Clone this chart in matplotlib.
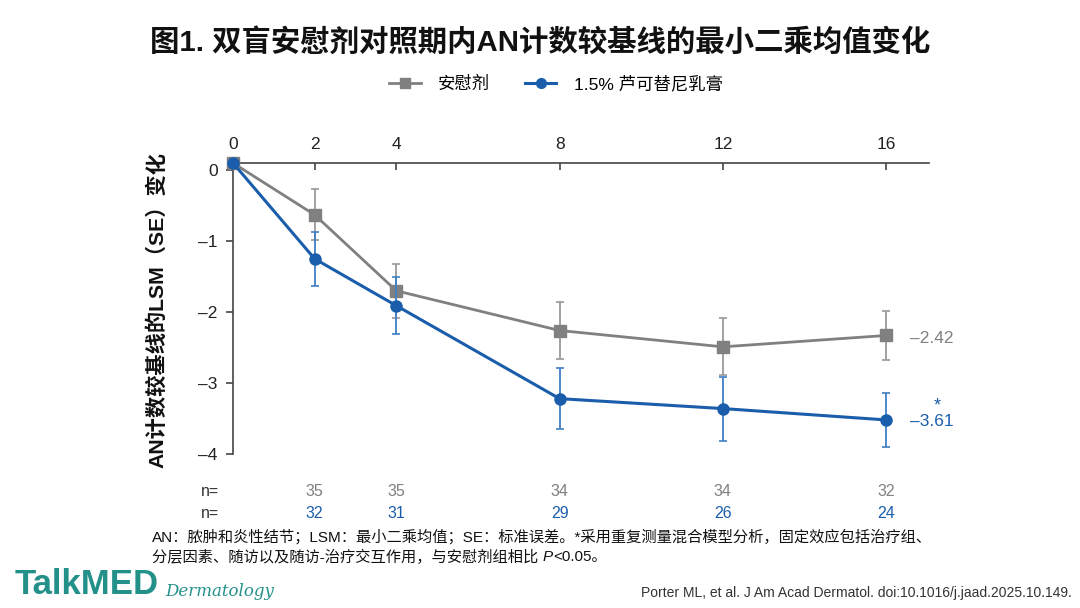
import matplotlib
matplotlib.use("Agg")
import matplotlib.pyplot as plt
from matplotlib.lines import Line2D

plt.rcParams['font.family'] = ['Liberation Sans', 'Noto Sans CJK SC', 'DejaVu Sans']

# ---------------- data ----------------
weeks = [0, 2, 4, 8, 12, 16]
placebo_mean = [0.1, -0.63, -1.70, -2.26, -2.49, -2.33]
placebo_se = [0.0, 0.36, 0.38, 0.40, 0.40, 0.34]
drug_mean = [0.1, -1.25, -1.91, -3.22, -3.36, -3.52]
drug_se = [0.0, 0.38, 0.40, 0.43, 0.45, 0.38]
n_weeks = [2, 4, 8, 12, 16]
n_placebo = [35, 35, 34, 34, 32]
n_drug = [32, 31, 29, 26, 24]
xtick_vals = [0, 2, 4, 8, 12, 16]
ytick_vals = [0, -1, -2, -3, -4]
ytick_labels = ["0", "–1", "–2", "–3", "–4"]
end_label_placebo = "–2.42"
end_label_drug = "–3.61"

series_names = ["安慰剂", "1.5% 芦可替尼乳膏"]
title = "图1. 双盲安慰剂对照期内AN计数较基线的最小二乘均值变化"
ylabel = "AN计数较基线的LSM（SE）变化"
foot1 = "AN：脓肿和炎性结节；LSM：最小二乘均值；SE：标准误差。*采用重复测量混合模型分析，固定效应包括治疗组、"
foot2a = "分层因素、随访以及随访-治疗交互作用，与安慰剂组相比 "
foot2b = "P"
foot2c = "<0.05。"
citation = "Porter ML, et al. J Am Acad Dermatol. doi:10.1016/j.jaad.2025.10.149."

GRAY = "#808080"
GRAY_ERR = "#9a9a9a"
BLUE = "#1a5eab"
BLUE_ERR = "#3f7fc6"

fig = plt.figure(figsize=(10.8, 6.08), dpi=100)
ax = fig.add_axes([233/1080, 1-454/608, (929-233)/1080, (454-163)/608])

ax.errorbar(weeks, placebo_mean, yerr=placebo_se, color=GRAY, ecolor=GRAY_ERR,
            elinewidth=1.3, capsize=3, capthick=1.2, lw=2.0, marker='s', ms=8,
            clip_on=False, zorder=3)
ax.errorbar(weeks, drug_mean, yerr=drug_se, color=BLUE, ecolor=BLUE_ERR,
            elinewidth=1.3, capsize=3, capthick=1.2, lw=2.2, marker='o', ms=8,
            clip_on=False, zorder=4)

ax.set_xlim(0, 17.05)
ax.set_ylim(-4, 0.1)

ax.spines['bottom'].set_visible(False)
ax.spines['right'].set_visible(False)
for s in ['top', 'left']:
    ax.spines[s].set_color('#444444')
    ax.spines[s].set_linewidth(1.2)

ax.xaxis.tick_top()
ax.set_xticks(xtick_vals)
ax.set_xticklabels([str(v) for v in xtick_vals], fontsize=12.5)
ax.tick_params(axis='x', direction='in', length=5, width=1.2, color='#444444',
               pad=8, labelcolor='#222222')
ax.set_yticks(ytick_vals)
ax.set_yticklabels(ytick_labels, fontsize=12.5)
ax.tick_params(axis='y', direction='out', length=5, width=1.2, color='#444444',
               pad=6, labelcolor='#222222')

# end labels
ax.annotate(end_label_placebo, xy=(weeks[-1], placebo_mean[-1]), xytext=(17, -2),
            textcoords='offset points', color=GRAY, fontsize=12.5,
            va='center', ha='left', annotation_clip=False)
ax.annotate(end_label_drug, xy=(weeks[-1], drug_mean[-1]), xytext=(17, -1),
            textcoords='offset points', color=BLUE, fontsize=12.5,
            va='center', ha='left', annotation_clip=False)
ax.annotate("*", xy=(weeks[-1], drug_mean[-1]), xytext=(37, 10),
            textcoords='offset points', color=BLUE, fontsize=13,
            va='center', ha='center', annotation_clip=False)

# n rows
trans = ax.get_xaxis_transform()
row1_y = 1 - (491 - 163) / (454 - 163)
row2_y = 1 - (513 - 163) / (454 - 163)
for yy in (row1_y, row2_y):
    ax.text(-0.35, yy, "n=", transform=trans, ha='right', va='center',
            fontsize=11.5, color='#333333', clip_on=False)
for w, a, b in zip(n_weeks, n_placebo, n_drug):
    ax.text(w, row1_y, str(a), transform=trans, ha='center', va='center',
            fontsize=11.5, color=GRAY, clip_on=False)
    ax.text(w, row2_y, str(b), transform=trans, ha='center', va='center',
            fontsize=11.5, color=BLUE, clip_on=False)

# y label
fig.text(157/1080, 1-310/608, ylabel, rotation=90, ha='center', va='center',
         fontsize=15.3, fontweight='bold', color='#111111')

# title
fig.text(540/1080, 1-42/608, title, ha='center', va='center', fontsize=21.2,
         fontweight='bold', color='#111111')

# legend
handles = [Line2D([], [], color=GRAY, marker='s', ms=7, lw=2.0),
           Line2D([], [], color=BLUE, marker='o', ms=7, lw=2.2)]
fig.legend(handles, series_names, loc='center', bbox_to_anchor=(556/1080, 1-84/608),
           ncol=2, frameon=False, fontsize=12.5, handlelength=1.8, columnspacing=2.0,
           handletextpad=1.0)

# footnote
fig.text(152/1080, 1-537/608, foot1, ha='left', va='center', fontsize=11, color='#111111')
t2 = fig.text(152/1080, 1-557/608, foot2a, ha='left', va='center', fontsize=11,
              color='#111111')
t3 = fig.text(0, 0, foot2b, fontsize=11, style='italic', color='#111111')
fig.canvas.draw()
r = fig.canvas.get_renderer()
bb = t2.get_window_extent(r)
t3.set_position((bb.x1 / fig.bbox.width, 1-557/608))
t3.set_va('center')
fig.canvas.draw()
bb3 = t3.get_window_extent(r)
fig.text(bb3.x1 / fig.bbox.width + 0.001, 1-557/608, foot2c, ha='left', va='center',
         fontsize=11, color='#111111')

# logo
fig.text(15/1080, 1-584/608, "TalkMED", ha='left', va='center', fontsize=25,
         fontweight='bold', color='#23918a', family=['Liberation Sans Narrow', 'Liberation Sans'])
fig.text(165/1080, 1-591/608, "Dermatology", ha='left', va='center', fontsize=12,
         style='italic', color='#23918a', family=['DejaVu Serif'])

# citation
fig.text(1072/1080, 1-593/608, citation, ha='right', va='center', fontsize=10,
         color='#333333', family=['Liberation Sans Narrow', 'Liberation Sans'])

fig.savefig("out.png", dpi=100)
